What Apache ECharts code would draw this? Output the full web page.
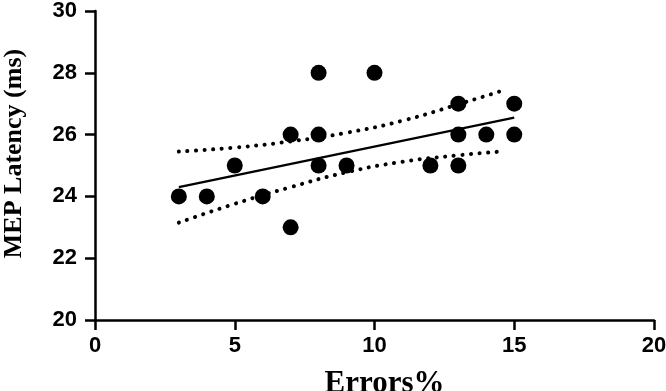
<!DOCTYPE html>
<html><head><meta charset="utf-8">
<script src="https://cdn.jsdelivr.net/npm/echarts@6/dist/echarts.min.js"></script>
<style>html,body{margin:0;padding:0;background:#fff}#c{width:666px;height:391px}</style>
</head><body><div id="c"></div>
<script>
const xTicks = [0, 5, 10, 15, 20];
const yTicks = [20, 22, 24, 26, 28, 30];
const errors = [3, 4, 5, 6, 7, 7, 8, 8, 8, 9, 10, 12, 13, 13, 13, 14, 15, 15];
const latency = [24, 24, 25, 24, 26, 23, 28, 26, 25, 25, 28, 25, 27, 26, 25, 26, 27, 26];
const fitX = [3, 15];
const fitY = [24.3, 26.55];
const bandX = [3, 5, 7, 9, 11, 13, 14.5];
const upperY = [25.45, 25.58, 25.78, 26.06, 26.45, 26.98, 27.4];
const lowerY = [23.15, 23.76, 24.3, 24.78, 25.12, 25.33, 25.45];

const chart = echarts.init(document.getElementById('c'));
const pairs = (xs, ys) => xs.map((x, i) => [x, ys[i]]);
function mkAxis(extra, labelMargin) {
  return Object.assign({
    type: 'value',
    axisLine: {show: true, onZero: false, lineStyle: {color: '#000', width: 2.5}},
    axisTick: {show: true, inside: false, length: 10, lineStyle: {color: '#000', width: 2.5}},
    splitLine: {show: false},
    axisLabel: {show: true, margin: labelMargin, color: '#000', fontFamily: 'Liberation Sans', fontWeight: 'bold', fontSize: 22}
  }, extra);
}
const dotted = {color: '#000', width: 4, type: [0.1, 8.5], cap: 'round'};
chart.setOption({
  animation: false,
  grid: {left: 95, right: 12, top: 11, bottom: 71, containLabel: false, outerBoundsMode: 'none'},
  xAxis: mkAxis({
    min: xTicks[0], max: xTicks[xTicks.length - 1], interval: 5,
    name: 'Errors%', nameLocation: 'middle', nameGap: 48,
    nameTextStyle: {color: '#000', fontFamily: 'Liberation Serif', fontWeight: 'bold', fontSize: 31, padding: [0, 0, 0, 20]}
  }, 15),
  yAxis: mkAxis({
    min: yTicks[0], max: yTicks[yTicks.length - 1], interval: 2,
    name: 'MEP Latency (ms)', nameLocation: 'middle', nameGap: 68,
    nameTextStyle: {color: '#000', fontFamily: 'Liberation Serif', fontWeight: 'bold', fontSize: 26, padding: [0, 0, 0, 24]}
  }, 18),
  series: [
    {type: 'line', data: pairs(bandX, upperY), smooth: true, symbol: 'none', lineStyle: dotted, silent: true},
    {type: 'line', data: pairs(bandX, lowerY), smooth: true, symbol: 'none', lineStyle: dotted, silent: true},
    {type: 'line', data: pairs(fitX, fitY), symbol: 'none', lineStyle: {color: '#000', width: 2.2}, silent: true},
    {type: 'scatter', data: pairs(errors, latency), symbolSize: 16, itemStyle: {color: '#000', opacity: 1}, z: 5}
  ]
});
</script></body></html>
